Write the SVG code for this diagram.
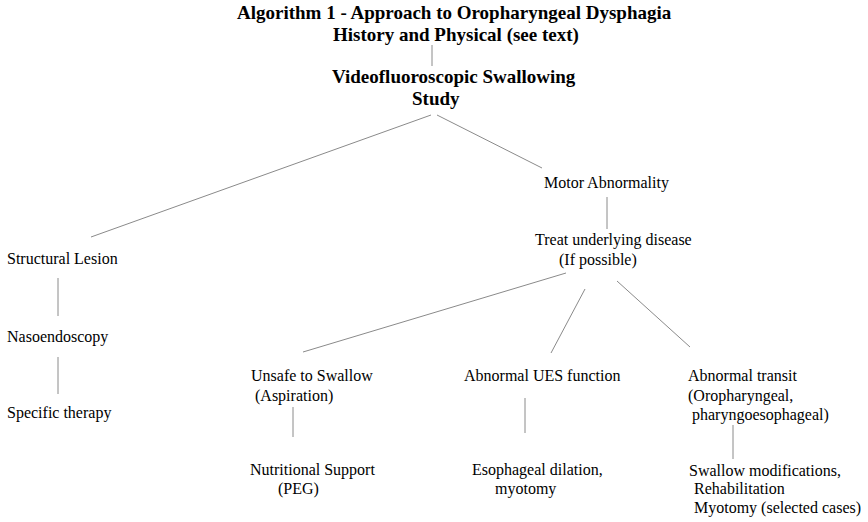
<svg xmlns="http://www.w3.org/2000/svg" width="868" height="522" viewBox="0 0 868 522">
<style>
text{font-family:"Liberation Serif","Times New Roman",serif;font-size:16px;fill:#000}
.b{font-weight:bold;font-size:19px}
.c line{stroke:#8a8a8a;stroke-width:1}
</style>
<rect width="868" height="522" fill="#fff"/>
<g class="c" id="connectors">
<line x1="432" y1="45" x2="432" y2="66"/>
<line x1="431" y1="115" x2="91" y2="237"/>
<line x1="437" y1="115" x2="542" y2="168"/>
<line x1="607" y1="197" x2="607" y2="229"/>
<line x1="566" y1="273" x2="303" y2="352"/>
<line x1="585" y1="289" x2="551" y2="353"/>
<line x1="617" y1="281" x2="690" y2="347"/>
<line x1="58" y1="278" x2="58" y2="316"/>
<line x1="58" y1="357" x2="58" y2="394"/>
<line x1="293" y1="407" x2="293" y2="437"/>
<line x1="525" y1="398" x2="525" y2="433"/>
<line x1="733" y1="425" x2="733" y2="459"/>
</g>
<g id="title"><text class="b" x="237" y="19">Algorithm 1 - Approach to Oropharyngeal Dysphagia</text></g>
<g id="history"><text class="b" x="333" y="41">History and Physical (see text)</text></g>
<g id="vfss"><text class="b" x="332" y="83">Videofluoroscopic Swallowing</text><text class="b" x="412" y="105">Study</text></g>
<g id="motor"><text x="544" y="188">Motor Abnormality</text></g>
<g id="treat"><text x="535" y="245">Treat underlying disease</text><text x="559" y="265">(If possible)</text></g>
<g id="structural"><text x="7" y="264">Structural Lesion</text></g>
<g id="naso"><text x="7" y="342">Nasoendoscopy</text></g>
<g id="specific"><text x="7" y="418">Specific therapy</text></g>
<g id="unsafe"><text x="251" y="381">Unsafe to Swallow</text><text x="255" y="401">(Aspiration)</text></g>
<g id="nutrition"><text x="250" y="475">Nutritional Support</text><text x="278" y="494">(PEG)</text></g>
<g id="ues"><text x="464" y="381">Abnormal UES function</text></g>
<g id="dilation"><text x="472" y="475">Esophageal dilation,</text><text x="495" y="494">myotomy</text></g>
<g id="transit"><text x="688" y="381">Abnormal transit</text><text x="688" y="401">(Oropharyngeal,</text><text x="692" y="420">pharyngoesophageal)</text></g>
<g id="swallowmod"><text x="689" y="476">Swallow modifications,</text><text x="694" y="494">Rehabilitation</text><text x="694" y="513">Myotomy (selected cases)</text></g>
</svg>
